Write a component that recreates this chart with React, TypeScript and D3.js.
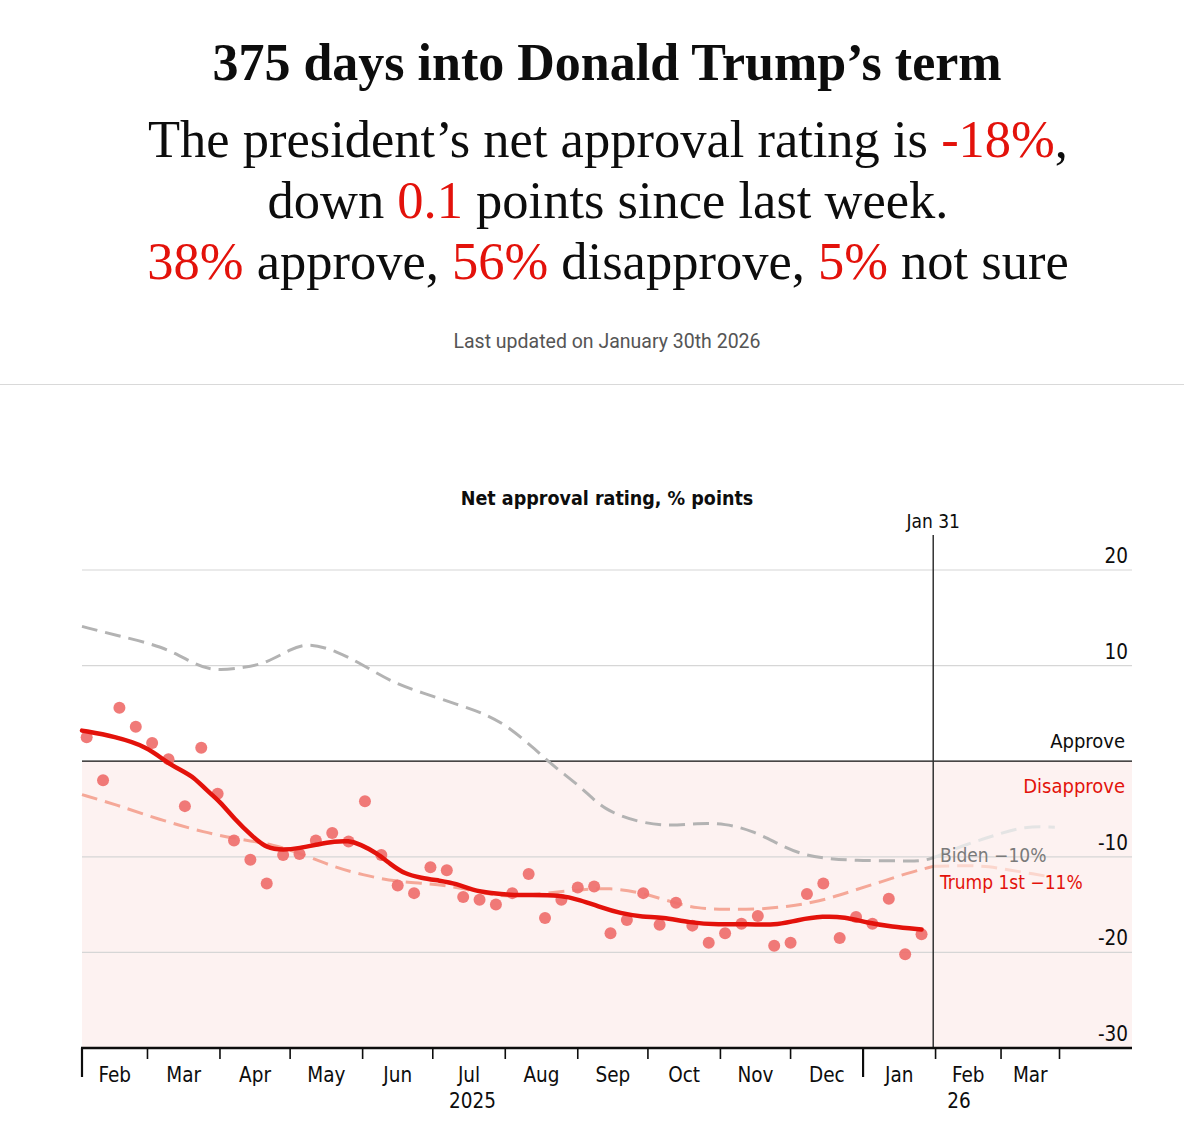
import React, { useEffect, useRef } from 'react';
import * as d3 from 'd3';

// weekly poll readings, net approval
const pollDates = [
  "2025-02-03", "2025-02-10", "2025-02-17", "2025-02-24", "2025-03-03", "2025-03-10", "2025-03-17",
  "2025-03-24", "2025-03-31", "2025-04-07", "2025-04-14", "2025-04-21", "2025-04-28", "2025-05-05",
  "2025-05-12", "2025-05-19", "2025-05-26", "2025-06-02", "2025-06-09", "2025-06-16", "2025-06-23",
  "2025-06-30", "2025-07-07", "2025-07-14", "2025-07-21", "2025-07-28", "2025-08-04", "2025-08-11",
  "2025-08-18", "2025-08-25", "2025-09-01", "2025-09-08", "2025-09-15", "2025-09-22", "2025-09-29",
  "2025-10-06", "2025-10-13", "2025-10-20", "2025-10-27", "2025-11-03", "2025-11-10", "2025-11-17",
  "2025-11-24", "2025-12-01", "2025-12-08", "2025-12-15", "2025-12-22", "2025-12-29", "2026-01-05",
  "2026-01-12", "2026-01-19", "2026-01-26"
];
const pollValues = [
  2.5, -2.0, 5.6, 3.6, 1.9, 0.2, -4.7, 1.4, -3.4, -8.3, -10.3, -12.8, -9.8, -9.7,
  -8.3, -7.5, -8.4, -4.2, -9.8, -13.0, -13.8, -11.1, -11.4, -14.2, -14.5, -15.0, -13.8, -11.8,
  -16.4, -14.5, -13.2, -13.1, -18.0, -16.6, -13.8, -17.1, -14.8, -17.2, -19.0, -18.0, -17.0, -16.2,
  -19.3, -19.0, -13.9, -12.8, -18.5, -16.3, -17.0, -14.4, -20.2, -18.1
];

// smoothed trend, Trump second term
const trumpTrend: [string, number][] = [
  ["2025-02-01", 3.2], ["2025-02-15", 2.6], ["2025-03-01", 1.5], ["2025-03-09", -0.1],
  ["2025-03-15", -0.9], ["2025-03-21", -1.7], ["2025-03-26", -3.0], ["2025-04-01", -4.2],
  ["2025-04-07", -6.0], ["2025-04-15", -7.9], ["2025-04-21", -9.1], ["2025-04-28", -9.3],
  ["2025-05-05", -9.1], ["2025-05-13", -8.7], ["2025-05-20", -8.4], ["2025-05-26", -8.3],
  ["2025-05-31", -8.7], ["2025-06-07", -9.6], ["2025-06-13", -10.8], ["2025-06-19", -11.8],
  ["2025-06-26", -12.2], ["2025-07-04", -12.5], ["2025-07-11", -12.8], ["2025-07-18", -13.5],
  ["2025-07-26", -13.8], ["2025-08-03", -14.0], ["2025-08-12", -14.0], ["2025-08-24", -14.0],
  ["2025-09-02", -14.5], ["2025-09-11", -15.3], ["2025-09-19", -15.9], ["2025-09-29", -16.3],
  ["2025-10-07", -16.3], ["2025-10-19", -16.9], ["2025-10-31", -17.1], ["2025-11-13", -17.0],
  ["2025-11-24", -17.2], ["2025-12-04", -16.6], ["2025-12-15", -16.2], ["2025-12-24", -16.3],
  ["2026-01-03", -16.9], ["2026-01-13", -17.3], ["2026-01-26", -17.6]
];

// comparison terms, aligned to the same day of term
const bidenTrend: [string, number][] = [
  ["2025-02-01", 14.1], ["2025-02-15", 13.2], ["2025-03-08", 12.0], ["2025-03-20", 10.3],
  ["2025-03-29", 9.4], ["2025-04-12", 9.8], ["2025-04-21", 10.3], ["2025-05-01", 11.7],
  ["2025-05-09", 12.4], ["2025-05-21", 11.5], ["2025-06-01", 10.1], ["2025-06-14", 8.2],
  ["2025-06-26", 7.2], ["2025-07-12", 5.9], ["2025-07-24", 4.9], ["2025-08-03", 3.5],
  ["2025-08-14", 1.2], ["2025-08-22", -0.6], ["2025-09-03", -2.8], ["2025-09-12", -5.1],
  ["2025-09-27", -6.4], ["2025-10-10", -6.8], ["2025-10-22", -6.5], ["2025-11-03", -6.5],
  ["2025-11-15", -7.3], ["2025-11-26", -8.7], ["2025-12-06", -9.8], ["2025-12-17", -10.2],
  ["2025-12-29", -10.4], ["2026-01-13", -10.4], ["2026-01-26", -10.5], ["2026-01-31", -10.1],
  ["2026-02-14", -8.7], ["2026-02-27", -7.7], ["2026-03-11", -6.8], ["2026-03-24", -6.9]
];

const trumpFirstTrend: [string, number][] = [
  ["2025-02-01", -3.5], ["2025-02-15", -4.5], ["2025-03-06", -6.1], ["2025-03-26", -7.5],
  ["2025-04-08", -8.1], ["2025-04-24", -8.7], ["2025-05-07", -9.8], ["2025-05-19", -11.0],
  ["2025-06-01", -11.9], ["2025-06-15", -12.6], ["2025-06-30", -12.8], ["2025-07-12", -13.2],
  ["2025-07-26", -14.0], ["2025-08-05", -14.2], ["2025-08-18", -13.8], ["2025-08-31", -13.5],
  ["2025-09-15", -13.2], ["2025-09-29", -13.8], ["2025-10-12", -14.8], ["2025-10-22", -15.4],
  ["2025-11-03", -15.5], ["2025-11-17", -15.5], ["2025-11-30", -15.2], ["2025-12-13", -14.7],
  ["2025-12-27", -13.6], ["2026-01-09", -12.6], ["2026-01-20", -11.7], ["2026-01-31", -11.0],
  ["2026-02-14", -10.9], ["2026-02-24", -11.0], ["2026-03-05", -11.4], ["2026-03-15", -11.8],
  ["2026-03-22", -12.1]
];

const monthTicks = [
  "2025-02-01", "2025-03-01", "2025-04-01", "2025-05-01", "2025-06-01", "2025-07-01", "2025-08-01",
  "2025-09-01", "2025-10-01", "2025-11-01", "2025-12-01", "2026-01-01", "2026-02-01", "2026-03-01",
  "2026-03-26"
];
const monthLabels = ["Feb", "Mar", "Apr", "May", "Jun", "Jul", "Aug", "Sep", "Oct", "Nov", "Dec", "Jan", "Feb", "Mar"];
const yearTicks = ["2025-02-01", "2026-01-01"];
const yearLabels: [string, string][] = [["2025-07-18", "2025"], ["2026-02-11", "26"]];
const yTicks = [20, 10, -10, -20, -30];

const today = "2026-01-31";

const SERIF = "'Liberation Serif', 'DejaVu Serif', serif";
const SANS = "Roboto, 'Liberation Sans', sans-serif";
const NARROW = "'Liberation Sans Narrow', 'DejaVu Sans Condensed', Roboto, sans-serif";
const RED = "#e3120b";

const App: React.FC = () => {
  const svgRef = useRef<SVGSVGElement>(null);

  useEffect(() => {
    if (!svgRef.current) return;
    const svg = d3.select(svgRef.current);
    svg.selectAll("*").remove();

    const width = 1184;
    const parse = d3.timeParse("%Y-%m-%d");
    const p = (s: string) => parse(s) as Date;

    // header
    svg.append("text")
      .attr("x", 607).attr("y", 80)
      .attr("text-anchor", "middle")
      .attr("font-family", SERIF).attr("font-weight", "bold").attr("font-size", 52)
      .attr("fill", "#0d0d0d")
      .text("375 days into Donald Trump’s term");

    const headLines: [string, boolean][][] = [
      [["The president’s net approval rating is ", false], ["-18%", true], [",", false]],
      [["down ", false], ["0.1", true], [" points since last week.", false]],
      [["38%", true], [" approve, ", false], ["56%", true], [" disapprove, ", false], ["5%", true], [" not sure", false]]
    ];
    headLines.forEach((parts, i) => {
      const t = svg.append("text")
        .attr("x", 608).attr("y", 157 + i * 61)
        .attr("text-anchor", "middle")
        .attr("font-family", SERIF).attr("font-size", 52.5)
        .attr("fill", "#0d0d0d");
      parts.forEach(([s, red]) => {
        t.append("tspan").attr("fill", red ? RED : "#0d0d0d").text(s);
      });
    });

    svg.append("text")
      .attr("x", 607).attr("y", 348)
      .attr("text-anchor", "middle")
      .attr("font-family", SANS).attr("font-size", 19.5)
      .attr("fill", "#555")
      .text("Last updated on January 30th 2026");

    svg.append("line")
      .attr("x1", 0).attr("x2", width)
      .attr("y1", 384.5).attr("y2", 384.5)
      .attr("stroke", "#d9d9d9").attr("stroke-width", 1);

    // chart
    const x = d3.scaleTime()
      .domain([p("2025-02-01"), p("2026-04-26")])
      .range([82, 1132]);
    const y = d3.scaleLinear().domain([-30, 20]).range([1048, 570]);

    svg.append("text")
      .attr("x", 607).attr("y", 505)
      .attr("text-anchor", "middle")
      .attr("font-family", NARROW).attr("font-weight", "bold").attr("font-size", 19.5)
      .attr("fill", "#0d0d0d")
      .text("Net approval rating, % points");

    svg.append("rect")
      .attr("x", x.range()[0]).attr("width", x.range()[1] - x.range()[0])
      .attr("y", y(0)).attr("height", y(-30) - y(0))
      .attr("fill", "#fdf2f1");

    yTicks.filter(v => v !== -30).forEach(v => {
      svg.append("line")
        .attr("x1", x.range()[0]).attr("x2", x.range()[1])
        .attr("y1", y(v)).attr("y2", y(v))
        .attr("stroke", "#d6d6d6").attr("stroke-width", 1.2);
    });
    yTicks.forEach(v => {
      svg.append("text")
        .attr("x", 1128).attr("y", y(v) - 7)
        .attr("text-anchor", "end")
        .attr("font-family", NARROW).attr("font-size", 20.5)
        .attr("fill", "#0d0d0d")
        .text(String(v));
    });

    svg.append("line")
      .attr("x1", x.range()[0]).attr("x2", x.range()[1])
      .attr("y1", y(0)).attr("y2", y(0))
      .attr("stroke", "#0d0d0d").attr("stroke-width", 1.2);

    svg.append("text")
      .attr("x", 1125).attr("y", y(0) - 13)
      .attr("text-anchor", "end")
      .attr("font-family", NARROW).attr("font-size", 20)
      .attr("fill", "#0d0d0d")
      .text("Approve");
    svg.append("text")
      .attr("x", 1125).attr("y", y(0) + 32)
      .attr("text-anchor", "end")
      .attr("font-family", NARROW).attr("font-size", 20)
      .attr("fill", RED)
      .text("Disapprove");

    const line = d3.line<[Date, number]>()
      .x(d => x(d[0]))
      .y(d => y(d[1]))
      .curve(d3.curveBasis);

    const cut = p(today);
    const drawDashed = (rows: [string, number][], strong: string, light: string) => {
      const pts = rows.map(([d, v]) => [p(d), v] as [Date, number]);
      const before = pts.filter(d => d[0] <= cut);
      const after = pts.filter(d => d[0] >= cut);
      svg.append("path").datum(after).attr("d", line)
        .attr("fill", "none").attr("stroke", light).attr("stroke-width", 3)
        .attr("stroke-dasharray", "16 8");
      svg.append("path").datum(before).attr("d", line)
        .attr("fill", "none").attr("stroke", strong).attr("stroke-width", 3)
        .attr("stroke-dasharray", "16 8");
    };
    drawDashed(bidenTrend, "#b3b3b3", "#e4e4e4");
    drawDashed(trumpFirstTrend, "#f5a898", "#fbd6cd");

    svg.append("g")
      .selectAll("circle")
      .data(pollDates.map((d, i) => [p(d), pollValues[i]] as [Date, number]))
      .join("circle")
      .attr("cx", d => x(d[0]))
      .attr("cy", d => y(d[1]))
      .attr("r", 6)
      .attr("fill", "#ef6f6c")
      .attr("opacity", 0.92);

    svg.append("path")
      .datum(trumpTrend.map(([d, v]) => [p(d), v] as [Date, number]))
      .attr("d", line)
      .attr("fill", "none")
      .attr("stroke", RED)
      .attr("stroke-width", 4.5)
      .attr("stroke-linejoin", "round")
      .attr("stroke-linecap", "round");

    // today marker
    svg.append("line")
      .attr("x1", x(cut)).attr("x2", x(cut))
      .attr("y1", 535).attr("y2", y(-30))
      .attr("stroke", "#333").attr("stroke-width", 1.5);
    svg.append("text")
      .attr("x", x(cut)).attr("y", 528)
      .attr("text-anchor", "middle")
      .attr("font-family", NARROW).attr("font-weight", 500).attr("font-size", 19)
      .attr("fill", "#0d0d0d")
      .text("Jan 31");

    svg.append("text")
      .attr("x", 940).attr("y", 862)
      .attr("font-family", NARROW).attr("font-size", 19)
      .attr("fill", "#7a7a7a")
      .text("Biden −10%");
    svg.append("text")
      .attr("x", 940).attr("y", 889)
      .attr("font-family", NARROW).attr("font-size", 19)
      .attr("fill", RED)
      .text("Trump 1st −11%");

    // x axis
    const axisY = y(-30);
    svg.append("line")
      .attr("x1", x.range()[0] - 1).attr("x2", x.range()[1])
      .attr("y1", axisY).attr("y2", axisY)
      .attr("stroke", "#0d0d0d").attr("stroke-width", 2.5);

    const tickDates = monthTicks.map(p);
    const longSet = new Set(yearTicks);
    monthTicks.forEach((s, i) => {
      const long = longSet.has(s);
      svg.append("line")
        .attr("x1", x(tickDates[i])).attr("x2", x(tickDates[i]))
        .attr("y1", axisY).attr("y2", axisY + (long ? 29 : 11))
        .attr("stroke", "#0d0d0d").attr("stroke-width", long ? 2.2 : 1.6);
    });
    monthLabels.forEach((m, i) => {
      const mid = (x(tickDates[i]) + x(tickDates[i + 1])) / 2;
      svg.append("text")
        .attr("x", mid).attr("y", 1082)
        .attr("text-anchor", "middle")
        .attr("font-family", NARROW).attr("font-size", 20.5)
        .attr("fill", "#0d0d0d")
        .text(m);
    });
    yearLabels.forEach(([d, s]) => {
      svg.append("text")
        .attr("x", x(p(d))).attr("y", 1108)
        .attr("text-anchor", "middle")
        .attr("font-family", NARROW).attr("font-size", 20.5)
        .attr("fill", "#0d0d0d")
        .text(s);
    });
  }, []);

  return (
    <div style={{ position: 'absolute', left: 0, top: 0 }}>
      <svg ref={svgRef} width="1184" height="1133" style={{ display: 'block', background: '#fff' }}></svg>
    </div>
  );
};

export default App;
